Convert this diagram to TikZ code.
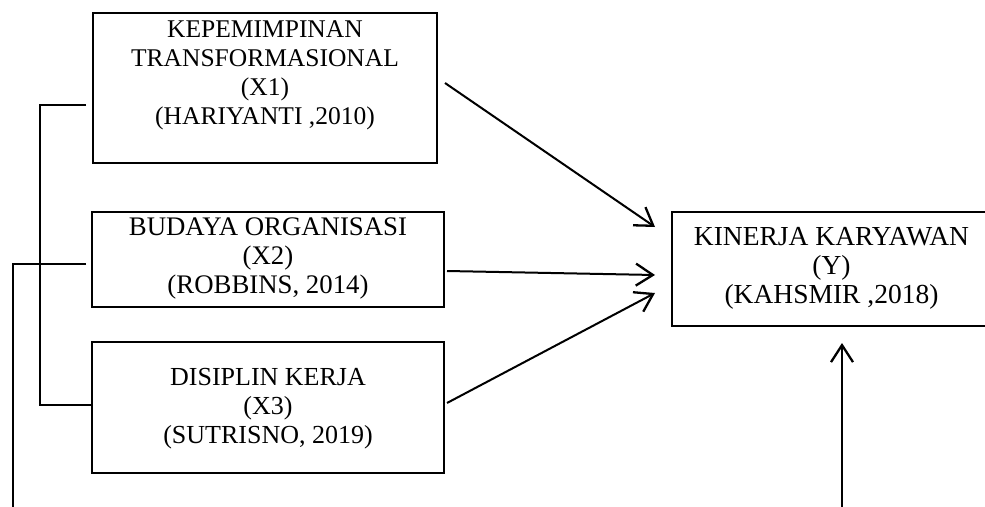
\documentclass[tikz,border=0pt]{standalone}
\usepackage{fontspec}
\setmainfont{Liberation Serif}
\usetikzlibrary{arrows.meta}
\begin{document}
\begin{tikzpicture}[x=1pt,y=-1pt,
  box/.style={draw=black, line width=1.1pt, inner sep=0pt, outer sep=0pt},
  lbl/.style={anchor=north, inner sep=0pt, outer sep=0pt, align=center},
  conn/.style={line width=2pt, -{Straight Barb[length=17pt,width=22pt,line width=2.3pt]}},
  link/.style={line width=1.3pt}]
\useasboundingbox (0,0) rectangle (985,506);
% boxes
\node[box, minimum width=344pt, minimum height=150pt] (x1) at (265,88) {};
\node[box, minimum width=352pt, minimum height=95pt] (x2) at (268,259.5) {};
\node[box, minimum width=352pt, minimum height=131pt] (x3) at (268,407.5) {};
\node[box, minimum width=319pt, minimum height=114pt] (y) at (831.5,269) {};
% texts
\node[lbl, font=\fontsize{25.5}{29}\selectfont] (x1t) at (265,21.1) {KEPEMIMPINAN\\TRANSFORMASIONAL\\(X1)\\(HARIYANTI ,2010)};
\node[lbl, font=\fontsize{26.8}{29}\selectfont] (x2t) at (268,217.4) {BUDAYA ORGANISASI\\(X2)\\(ROBBINS, 2014)};
\node[lbl, font=\fontsize{26}{29}\selectfont] (x3t) at (268,367.9) {DISIPLIN KERJA\\(X3)\\(SUTRISNO, 2019)};
\node[lbl, font=\fontsize{27.5}{29}\selectfont] (yt) at (831.5,227.8) {KINERJA KARYAWAN\\(Y)\\(KAHSMIR ,2018)};
% coordinates for free ends
\coordinate (bot) at (842,510);
\coordinate (botleft) at (13,510);
% arrows
\draw[conn] ([xshift=8pt,yshift=5pt]x1.east) -- ([xshift=-17pt,yshift=42pt]y.west);
\draw[conn] ([xshift=3pt,yshift=-11.5pt]x2.east) -- ([xshift=-17pt,yshift=-6pt]y.west);
\draw[conn] ([xshift=3pt,yshift=4.5pt]x3.east) -- ([xshift=-17pt,yshift=-24pt]y.west);
\draw[conn] (bot) -- ([xshift=10.5pt,yshift=-17pt]y.south);
% left links
\draw[link] ([xshift=-7pt,yshift=-17pt]x1.west) -| ([xshift=-52pt,yshift=2.5pt]x3.west) -- ([yshift=2.5pt]x3.west);
\draw[link] ([xshift=-6pt,yshift=-4.5pt]x2.west) -| (botleft);
\end{tikzpicture}
\end{document}
